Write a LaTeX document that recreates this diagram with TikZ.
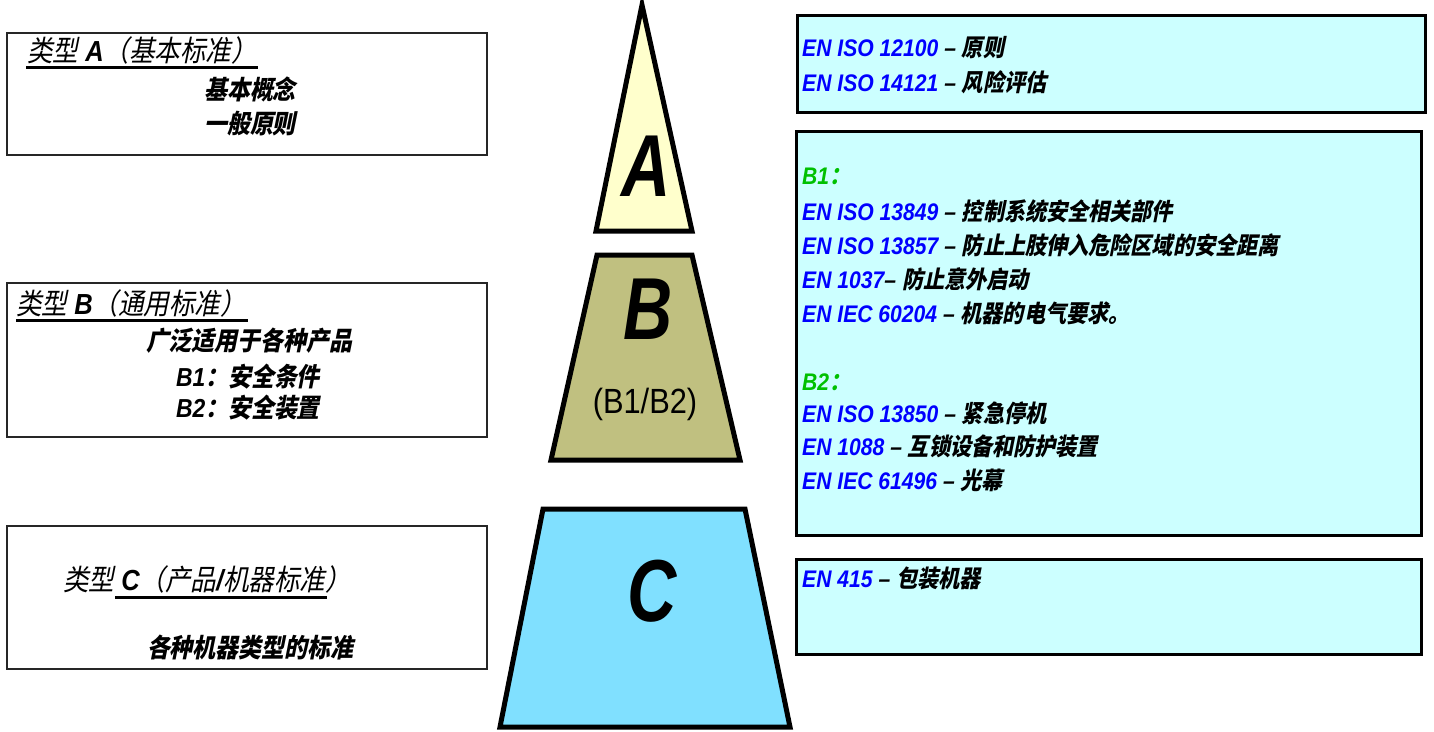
\documentclass[tikz,border=0pt]{standalone}
\usepackage{fontspec}
\setmainfont{Liberation Sans}[FakeStretch=0.88]
\newfontfamily\cjk{Noto Sans CJK SC}[FakeSlant=0.2,FakeStretch=0.88]
\newcommand\zh[1]{{\cjk #1}}
\newcommand\zl[1]{{\cjk\mdseries #1}}
\definecolor{stdblue}{HTML}{0000FF}
\definecolor{bgreen}{HTML}{00C000}
\definecolor{rfill}{HTML}{CCFFFF}
\definecolor{afill}{HTML}{FFFFCC}
\definecolor{bfill}{HTML}{C0C080}
\definecolor{cfill}{HTML}{80E0FF}
\newcommand\std[2]{{\color{stdblue}#1}~–~\zh{#2}}
\tikzset{
  lbox/.style={draw=black!85, line width=1.3pt},
  rbox/.style={draw=black, line width=3pt, fill=rfill},
  tier/.style={draw=black, line width=5pt, line join=miter},
  ul/.style={draw=black, line width=3pt},
  rtxt/.style={anchor=base west, inner sep=0pt, font=\fontsize{24}{28}\selectfont\bfseries\itshape},
  ltxt/.style={anchor=base, inner sep=0pt, font=\fontsize{26}{30}\selectfont\bfseries\itshape},
  ttxt/.style={anchor=base west, inner sep=0pt, font=\fontsize{29}{32}\selectfont\bfseries\itshape},
  big/.style={inner sep=0pt, font=\fontsize{88}{90}\selectfont\bfseries\itshape},
}
\begin{document}
\begin{tikzpicture}[x=1pt,y=-1pt]
\useasboundingbox[fill=white] (0,0) rectangle (1434,731);
% left boxes
\draw[lbox] (7,33) rectangle (487,155);
\draw[lbox] (7,283) rectangle (487,437);
\draw[lbox] (7,526) rectangle (487,669);
\node[ttxt] (tA) at (27,61) {\zl{类型} A\zl{（基本标准）}};
\draw[ul] (26,67) -- (258,67);
\node[ltxt] (a1) at (250,99) {\zh{基本概念}};
\node[ltxt] (a2) at (250,133) {\zh{一般原则}};
\node[ttxt] (tB) at (16,314) {\zl{类型} B\zl{（通用标准）}};
\draw[ul] (16,320) -- (248,320);
\node[ltxt] (b1) at (249,350) {\zh{广泛适用于各种产品}};
\node[ltxt] (b2) at (248,386) {B1\zh{：安全条件}};
\node[ltxt] (b3) at (248,417) {B2\zh{：安全装置}};
\node[ttxt] (tC) at (63,590) {\zl{类型} C\zl{（产品}/\zl{机器标准）}};
\draw[ul] (115,597) -- (327,597);
\node[ltxt] (c1) at (250,657) {\zh{各种机器类型的标准}};
% pyramid
\draw[tier, fill=afill] (642,5) -- (692,231) -- (596,231) -- cycle;
\draw[tier, fill=bfill] (597,255) -- (692,255) -- (740,460) -- (551,460) -- cycle;
\draw[tier, fill=cfill] (543,509) -- (745,509) -- (790,727) -- (500,727) -- cycle;
\node[big] (LA) at (646,166) {\scalebox{0.88}[1]{A}};
\node[big] (LB) at (648,309) {\scalebox{0.88}[1]{B}};
\node[big] (LC) at (652,591) {\scalebox{0.88}[1]{C}};
\node[inner sep=0pt, font=\fontsize{35}{40}\selectfont] (LB2) at (645,404) {(B1/B2)};
% right boxes
\draw[rbox] (797,15) rectangle (1425,112);
\draw[rbox] (796,131) rectangle (1421,535);
\draw[rbox] (796,559) rectangle (1421,654);
\node[rtxt] (r1) at (802,56) {\std{EN ISO 12100}{原则}};
\node[rtxt] (r2) at (802,91) {\std{EN ISO 14121}{风险评估}};
\node[rtxt] (g1) at (802,184) {{\color{bgreen}B1\zh{：}}};
\node[rtxt] (r3) at (802,220) {\std{EN ISO 13849}{控制系统安全相关部件}};
\node[rtxt] (r4) at (802,254) {\std{EN ISO 13857}{防止上肢伸入危险区域的安全距离}};
\node[rtxt] (r5) at (802,288) {{\color{stdblue}EN 1037}–~\zh{防止意外启动}};
\node[rtxt] (r6) at (802,322) {\std{EN IEC 60204}{机器的电气要求。}};
\node[rtxt] (g2) at (802,390) {{\color{bgreen}B2\zh{：}}};
\node[rtxt] (r7) at (802,422) {\std{EN ISO 13850}{紧急停机}};
\node[rtxt] (r8) at (802,455) {\std{EN 1088}{互锁设备和防护装置}};
\node[rtxt] (r9) at (802,489) {\std{EN IEC 61496}{光幕}};
\node[rtxt] (r10) at (802,587) {\std{EN 415}{包装机器}};
\end{tikzpicture}
\end{document}
